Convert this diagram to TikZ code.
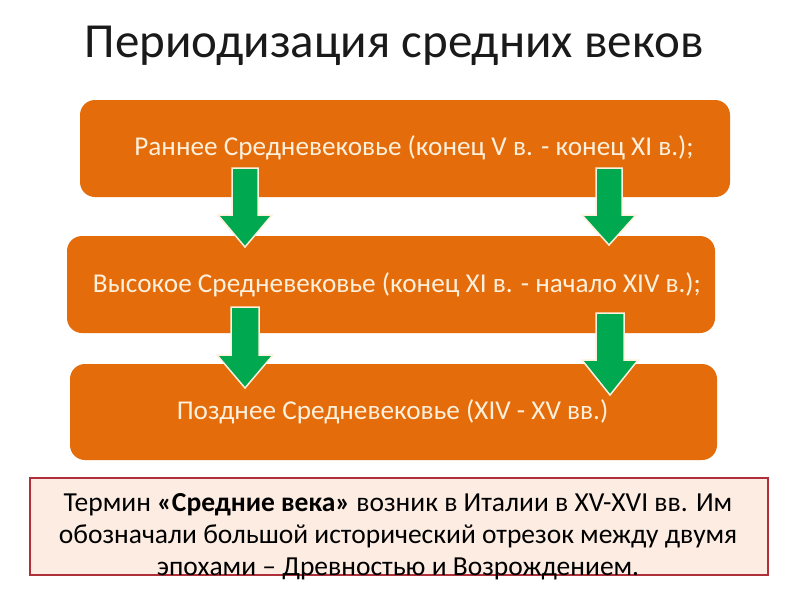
\documentclass[tikz,border=0pt]{standalone}
\usepackage{fontspec}
\setmainfont{Carlito}
\definecolor{orng}{HTML}{E46C0A}
\definecolor{grn}{HTML}{00A850}
\definecolor{cream}{HTML}{FDF0DC}
\definecolor{pinkbg}{HTML}{FDECE2}
\definecolor{redbd}{HTML}{B0303A}
\definecolor{titlec}{HTML}{1A1A1A}
\tikzset{
  period/.style={fill=orng, draw=none, rounded corners=15pt, inner sep=0pt},
  periodtext/.style={text=cream, font=\fontsize{27.2}{31}\selectfont, inner sep=0pt},
  garrow/.style={fill=grn, draw=cream, line width=1.5pt, line join=miter},
  notebox/.style={fill=pinkbg, draw=redbd, line width=2pt, inner sep=0pt},
}
% #1 = centre x, #2 = top y, #3 = head base y, #4 = tip y, #5 = half shaft, #6 = half head
\newcommand\greenarrow[6]{%
  \draw[garrow] (#1-#5,#2) -- (#1+#5,#2) -- (#1+#5,#3) -- (#1+#6,#3) -- (#1,#4)
     -- (#1-#6,#3) -- (#1-#5,#3) -- cycle;}
\begin{document}
\begin{tikzpicture}[x=1pt,y=-1pt]
\useasboundingbox (0,0) rectangle (800,600);
\fill[white] (0,0) rectangle (800,600);
\node[text=titlec, font=\fontsize{49}{58}\selectfont, inner sep=0pt] (title) at (394,46) {Периодизация средних веков};

\node[period, minimum width=650pt, minimum height=97pt] (early) at (405,148.5) {};
\node[periodtext] (earlyt) at (414,148) {Раннее Средневековье (конец V в. - конец XI в.);};

\node[period, minimum width=648pt, minimum height=97pt] (high) at (391,284.5) {};
\node[periodtext] (hight) at (397,285) {Высокое Средневековье (конец XI в. - начало XIV в.);};

\node[period, minimum width=647pt, minimum height=96pt] (late) at (393.5,412) {};
\node[periodtext] (latet) at (392.5,412) {Позднее Средневековье (XIV - XV вв.)};

\greenarrow{245}{168}{215}{247}{13}{27}
\greenarrow{609}{168}{215}{245}{13}{27}
\greenarrow{245}{307}{355}{388}{14}{28}
\greenarrow{610}{313}{360}{395}{14}{28}

\node[notebox, minimum width=738pt, minimum height=97pt] (note) at (399,526.5) {};
\node[align=center, font=\fontsize{27.5}{32}\selectfont, text=black, inner sep=0pt] (notet) at (398,537)
 {Термин \textbf{«Средние века»} возник в Италии в XV-XVI вв. Им\\
  обозначали большой исторический отрезок между двумя\\
  эпохами – Древностью и Возрождением.};
\end{tikzpicture}
\end{document}
